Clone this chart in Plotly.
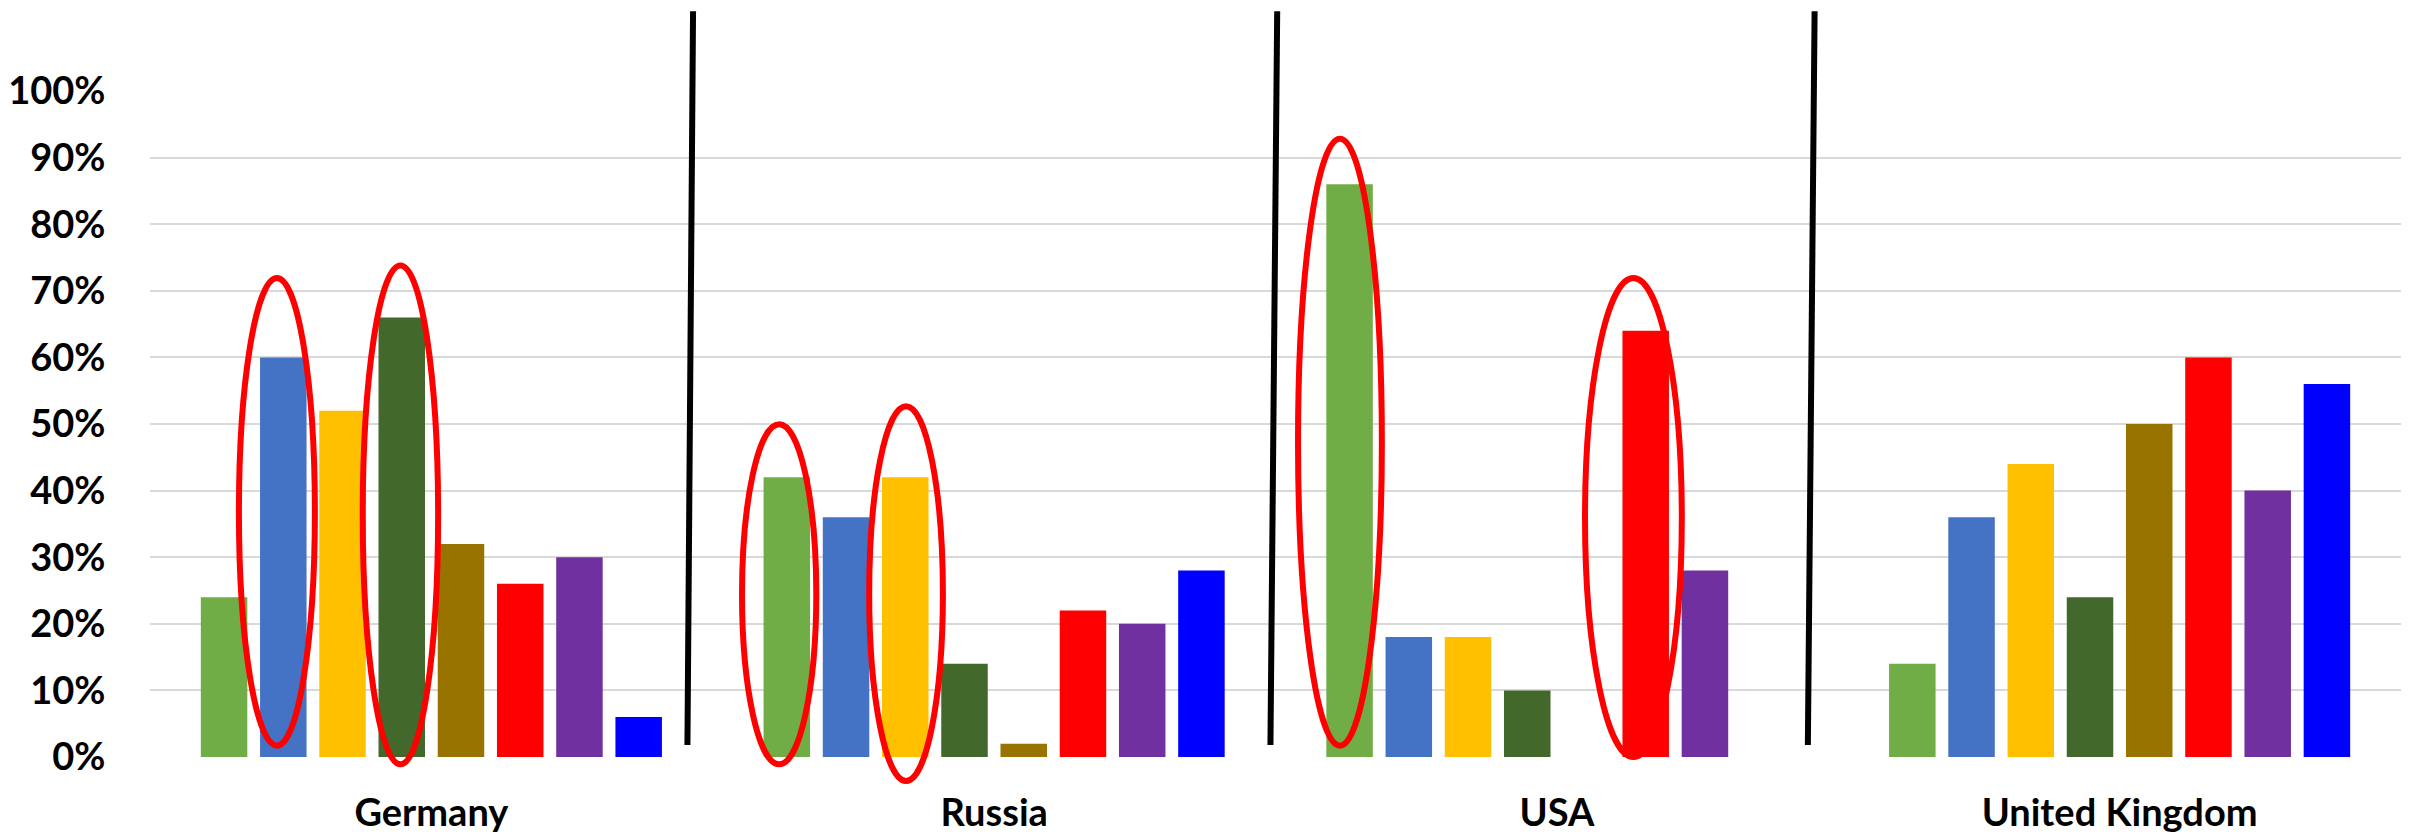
import plotly.graph_objects as go

# ---------------- data ----------------
countries = ["Germany", "Russia", "USA", "United Kingdom"]
series_names = ["Series 1", "Series 2", "Series 3", "Series 4",
                "Series 5", "Series 6", "Series 7", "Series 8"]
s1 = [0.24, 0.42, 0.86, 0.14]
s2 = [0.60, 0.36, 0.18, 0.36]
s3 = [0.52, 0.42, 0.18, 0.44]
s4 = [0.66, 0.14, 0.10, 0.24]
s5 = [0.32, 0.02, None, 0.50]
s6 = [0.26, 0.22, 0.64, 0.60]
s7 = [0.30, 0.20, 0.28, 0.40]
s8 = [0.06, 0.28, None, 0.56]
series_values = [s1, s2, s3, s4, s5, s6, s7, s8]
y_tick_values = [0, 0.1, 0.2, 0.3, 0.4, 0.5, 0.6, 0.7, 0.8, 0.9, 1.0]
y_tick_labels = ["0%", "10%", "20%", "30%", "40%", "50%", "60%", "70%", "80%", "90%", "100%"]

# ---------------- styles ----------------
colors = ["#70AD47", "#4472C4", "#FFC000", "#43682B",
          "#997300", "#FF0000", "#7030A0", "#0000FF"]
FONT = dict(family="Lato, 'Open Sans', sans-serif", size=38, color="#000000", weight="bold")

fig = go.Figure()
for name, vals, col in zip(series_names, series_values, colors):
    fig.add_trace(go.Bar(x=countries, y=vals, name=name, marker=dict(color=col, line=dict(width=0))))

# decorative hand-drawn divider lines (x in category units, y in paper units)
dividers = [((0.455, 0.018), (0.465, 1.118)),
            ((1.491, 0.018), (1.503, 1.118)),
            ((2.446, 0.018), (2.458, 1.118))]
shapes = []
for (xa, ya), (xb, yb) in dividers:
    shapes.append(dict(type="line", xref="x", yref="paper", x0=xa, y0=ya, x1=xb, y1=yb,
                       line=dict(color="#000000", width=6), layer="above"))

# red highlight ellipses (bounding boxes: x in category units, y in paper units)
ellipses = [(-0.342, -0.207, 0.017, 0.718),
            (-0.122, 0.012, -0.011, 0.737),
            (0.552, 0.684, -0.011, 0.499),
            (0.778, 0.909, -0.036, 0.526),
            (1.540, 1.689, 0.017, 0.927),
            (2.050, 2.222, 0.000, 0.718)]
for x0, x1, y0, y1 in ellipses:
    shapes.append(dict(type="circle", xref="x", yref="paper", x0=x0, x1=x1, y0=y0, y1=y1,
                       line=dict(color="#FF0000", width=6), fillcolor="rgba(0,0,0,0)", layer="above"))

fig.update_layout(
    width=2415, height=836,
    margin=dict(l=150, r=14, t=90, b=79, autoexpand=False),
    paper_bgcolor="#FFFFFF", plot_bgcolor="#FFFFFF",
    barmode="group", bargap=0.158, bargroupgap=0.215,
    showlegend=False,
    font=FONT,
    shapes=shapes,
)
fig.update_xaxes(type="category", range=[-0.5, 3.5], showgrid=False, zeroline=False, showline=False,
                 ticks="outside", ticklen=22, tickcolor="rgba(0,0,0,0)", tickfont=FONT, automargin=False)
fig.update_yaxes(range=[0, 1.0015], tickvals=y_tick_values, ticktext=y_tick_labels,
                 showgrid=True, gridcolor="#D9D9D9", gridwidth=2, zeroline=False, showline=False,
                 ticks="outside", ticklen=36, tickcolor="rgba(0,0,0,0)", tickfont=FONT, automargin=False)

fig.write_html("out.html", config={"displayModeBar": False},
               post_script="document.body.style.margin='0px';document.body.style.overflow='hidden';")
